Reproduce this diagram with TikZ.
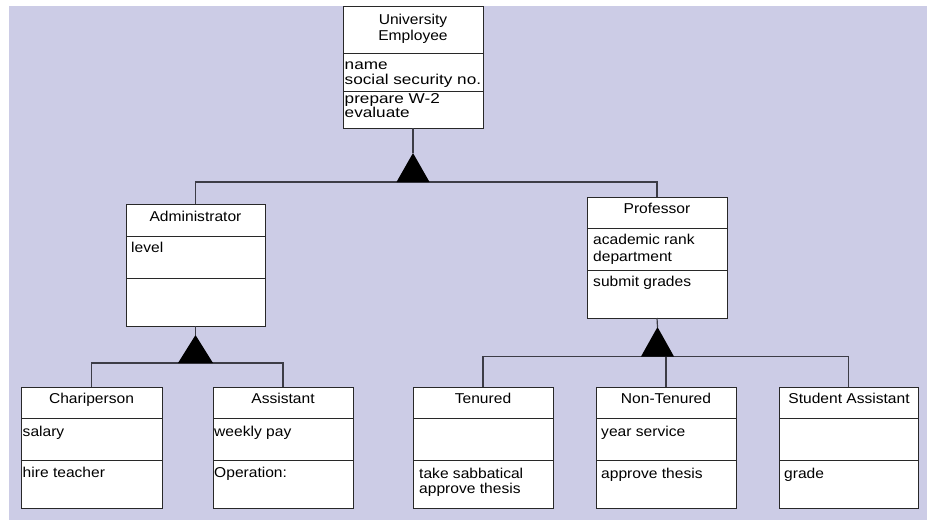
\documentclass[tikz,border=0pt]{standalone}
\usepackage{fontspec}
\setmainfont{Liberation Sans}
\definecolor{canvas}{RGB}{204,204,230}
\definecolor{boxline}{RGB}{40,40,40}
\definecolor{linkgray}{RGB}{60,60,70}

% A UML class box: name, left, top, right, bottom, first divider, second divider
\newcommand\umlclass[7]{%
  \node[classbox, minimum width={(#4-#2)*1pt}, minimum height={(#5-#3)*1pt}]
    (#1) at ({(#2+#4)/2},{(#3+#5)/2}) {};
  \draw[divider] (#1.west |- 0,#6) -- (#1.east |- 0,#6);
  \draw[divider] (#1.west |- 0,#7) -- (#1.east |- 0,#7);
}

\begin{document}
\begin{tikzpicture}[x=1pt,y=-1pt,
  classbox/.style={draw=boxline, fill=white, line width=1pt, inner sep=0pt, outer sep=0pt},
  divider/.style={draw=boxline, line width=1pt},
  link/.style={draw=linkgray, line width=1.2pt},
  gentri/.style={fill=black},
  label/.style={font=\fontsize{14.3}{16}\selectfont, inner sep=0pt, text height=10pt, text depth=3pt},
  title/.style={label, xscale=1.09},
  member/.style={label, anchor=west, xscale=1.09},
  widemember/.style={label, anchor=west, xscale=1.2}
]
\useasboundingbox (0,0) rectangle (927,520);
\fill[canvas] (9,6) rectangle (927,520);

% class boxes
\umlclass{ue}{343}{6}{483}{128}{53}{91}
\umlclass{admin}{126}{204}{265}{326}{236}{278}
\umlclass{prof}{587}{197}{727}{318}{228}{270}
\umlclass{chair}{21}{387}{162}{508.5}{418.5}{460.5}
\umlclass{asst}{213}{387}{353}{508.5}{418.5}{460.5}
\umlclass{ten}{413}{387}{553}{508.5}{418.5}{460.5}
\umlclass{nonten}{596}{387}{736}{508.5}{418.5}{460.5}
\umlclass{stud}{779}{387}{918.5}{508.5}{418.5}{460.5}

% University Employee
\node[title] (ueT1) at (413,21) {University};
\node[title] (ueT2) at (413,37) {Employee};
\node[widemember] (ueA1) at (344.5,66) {name};
\node[widemember] (ueA2) at (344.5,81) {social security no.};
\node[widemember] (ueO1) at (344.5,100) {prepare W-2};
\node[widemember] (ueO2) at (344.5,114) {evaluate};

% Administrator
\node[title] (adminT) at (195.5,218) {Administrator};
\node[member] (adminA1) at (131,249) {level};

% Professor
\node[title] (profT) at (657,210) {Professor};
\node[member] (profA1) at (593,241) {academic rank};
\node[member] (profA2) at (593,258) {department};
\node[member] (profO1) at (593,283) {submit grades};

% leaf classes
\node[title] (chairT) at (91.5,400) {Chariperson};
\node[member] (chairA1) at (22.5,433) {salary};
\node[member] (chairO1) at (22.5,474) {hire teacher};

\node[title] (asstT) at (283,400) {Assistant};
\node[member] (asstA1) at (214,433) {weekly pay};
\node[member] (asstO1) at (214,474) {Operation:};

\node[title] (tenT) at (483,400) {Tenured};
\node[member] (tenO1) at (419,474.5) {take sabbatical};
\node[member] (tenO2) at (419,490) {approve thesis};

\node[title] (nontenT) at (666,400) {Non-Tenured};
\node[member] (nontenA1) at (601,432.5) {year service};
\node[member] (nontenO1) at (601,474.5) {approve thesis};

\node[title] (studT) at (849,400) {Student Assistant};
\node[member] (studO1) at (784,474.5) {grade};

% generalization triangles
\coordinate (ueTip) at (413,153);
\coordinate (ueBar) at (413,182);
\coordinate (adminTip) at (195.5,335);
\coordinate (adminBar) at (195.5,363);
\coordinate (profTip) at (657.5,327);
\coordinate (profBar) at (657.5,356.5);

\draw[link] (ue.south) -- (ueTip);
\draw[link] (admin.north) |- (ueBar) -| (prof.north);
\draw[link] (admin.south) -- (adminTip);
\draw[link] (chair.north) |- (adminBar) -| (asst.north);
\draw[link] (prof.south) -- (profTip);
\draw[link] (ten.north) |- (profBar) -| (stud.north);
\draw[link] (nonten.north) -- (nonten.north |- profBar);

\fill[gentri] (ueTip) -- ([xshift=-16.5pt]ueBar) -- ([xshift=16.5pt]ueBar) -- cycle;
\fill[gentri] (adminTip) -- ([xshift=-17.5pt]adminBar) -- ([xshift=17.5pt]adminBar) -- cycle;
\fill[gentri] (profTip) -- ([xshift=-16.5pt]profBar) -- ([xshift=16.5pt]profBar) -- cycle;
\end{tikzpicture}
\end{document}
